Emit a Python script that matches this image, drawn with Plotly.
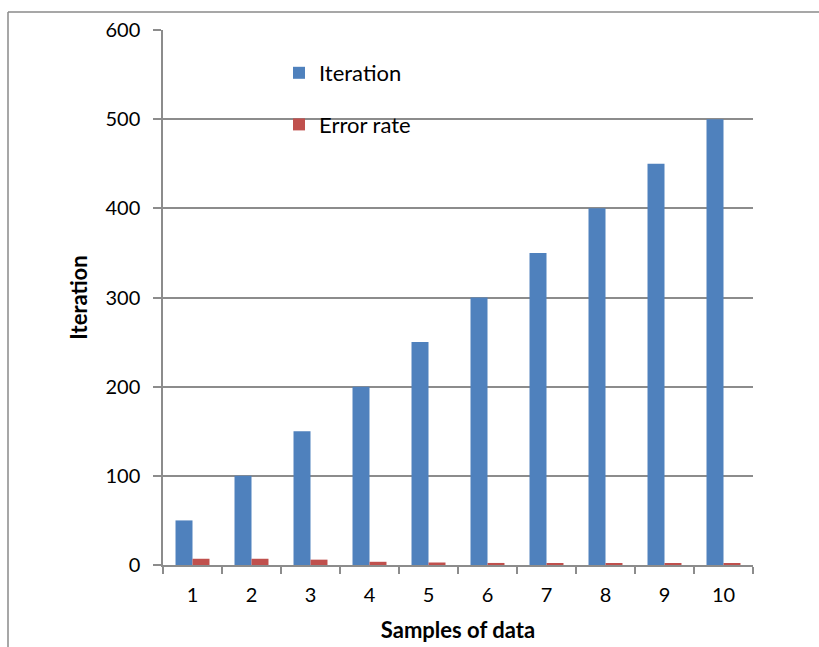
import plotly.graph_objects as go

# Sample index on the x axis
samples = ["1", "2", "3", "4", "5", "6", "7", "8", "9", "10"]
# Iteration count per sample
iterations = [50, 100, 150, 200, 250, 300, 350, 400, 450, 500]
# Error rate per sample
error_rate = [7, 7, 6, 3.6, 2.8, 2.3, 2.0, 1.8, 1.7, 1.6]

y_ticks = [0, 100, 200, 300, 400, 500, 600]

W, H = 819, 647
L, R, T, B = 163, 66, 30, 82
pw, ph = W - L - R, H - T - B

font_family = "Lato, 'Open Sans', sans-serif"
grid_col = "#8c8c8c"
frame_col = "#8a8a8a"

fig = go.Figure()
fig.add_trace(go.Bar(x=samples, y=iterations, name="Iteration",
                     marker=dict(color="#4F81BD", line=dict(width=0)),
                     legendgroup="a"))
fig.add_trace(go.Bar(x=samples, y=error_rate, name="Error rate",
                     marker=dict(color="#C0504D", line=dict(width=0)),
                     legendgroup="b"))


def px_x(p):
    return (p - L) / pw


def px_y(p):
    return 1 - (p - T) / ph


# outer chart frame: top and left edges
fig.add_shape(type="line", xref="paper", yref="paper",
              x0=px_x(8), x1=px_x(W), y0=px_y(12), y1=px_y(12),
              line=dict(color=frame_col, width=1.5), layer="below")
fig.add_shape(type="line", xref="paper", yref="paper",
              x0=px_x(8), x1=px_x(8), y0=px_y(12), y1=px_y(H),
              line=dict(color=frame_col, width=1.5), layer="below")

fig.update_layout(
    width=W, height=H,
    margin=dict(l=L, r=R, t=T, b=B, pad=0),
    paper_bgcolor="white", plot_bgcolor="white",
    barmode="group", bargap=0.424, bargroupgap=0,
    font=dict(family=font_family, size=20, color="black"),
    showlegend=True,
    legend=dict(x=px_x(279), y=px_y(52), xanchor="left", yanchor="top",
                bgcolor="rgba(0,0,0,0)", tracegroupgap=20,
                font=dict(size=22), itemwidth=30),
    xaxis=dict(
        type="category", tickson="boundaries", ticks="outside", ticklen=7,
        tickcolor=grid_col, tickwidth=1.5, automargin=False,
        showline=True, linecolor=grid_col, linewidth=1.5,
        showgrid=False, zeroline=False, ticklabelstandoff=11,
        title=dict(text="<b>Samples of data</b>", font=dict(size=22), standoff=18),
        tickfont=dict(size=20),
    ),
    yaxis=dict(
        range=[0, 600], tickvals=y_ticks, ticks="outside", ticklen=8,
        tickcolor=grid_col, tickwidth=1.5, automargin=False,
        showline=True, linecolor=grid_col, linewidth=1.5,
        showgrid=True, gridcolor=grid_col, gridwidth=1.5,
        zeroline=False, ticklabelstandoff=9,
        title=dict(text="<b>Iteration</b>", font=dict(size=22), standoff=12),
        tickfont=dict(size=20),
    ),
)

fig.write_html("out.html", config={"displayModeBar": False})
